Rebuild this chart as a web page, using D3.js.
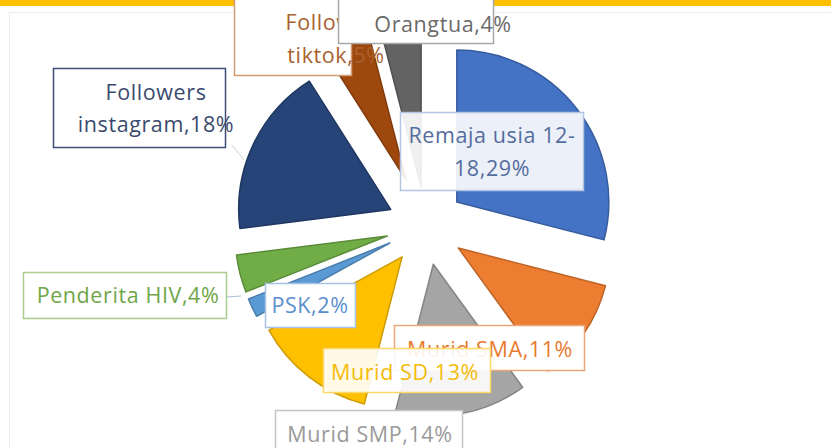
<!DOCTYPE html>
<html>
<head>
<meta charset="utf-8">
<script src="https://cdn.jsdelivr.net/npm/d3@7"></script>
<style>
  html, body { margin: 0; padding: 0; background: #fff; }
  svg { display: block; }
  text { font-family: "Open Sans", Lato, sans-serif; }
</style>
</head>
<body>
<div id="chart"></div>
<script>
// data
const categories = ["Remaja usia 12-18", "Murid SMA", "Murid SMP", "Murid SD", "PSK",
  "Penderita HIV", "Followers instagram", "Followers tiktok", "Orangtua"];
const values = [29, 11, 14, 13, 2, 4, 18, 5, 4];
// label text as shown (Excel wraps some of them)
const labelLines = [
  ["Remaja usia 12-", "18,29%"],
  ["Murid SMA,11%"],
  ["Murid SMP,14%"],
  ["Murid SD,13%"],
  ["PSK,2%"],
  ["Penderita HIV,4%"],
  ["Followers", "instagram,18%"],
  ["Followers", "tiktok,5%"],
  ["Orangtua,4%"]
];

// styles
const colors = ["#4472C4", "#ED7D31", "#A5A5A5", "#FFC000", "#5B9BD5", "#70AD47", "#264478", "#9E480E", "#636363"];
const textColors = ["#556c9e", "#e8792e", "#9a9a9a", "#f5bb0a", "#5b8fcf", "#6fa648", "#3a4a6e", "#a8622f", "#6a6a6a"];
const boxColors = ["#b4c4e2", "#e9a678", "#c4c4c4", "#fcd86a", "#a6c3e6", "#a9cc8f", "#3d4d74", "#d29b72", "#a8a8a8"];
const explode = [39, 39, 39, 39, 40, 40, 39, 50, 39];
// label boxes: [x, y, w, h], text centre x, first baseline, line step
const labelPos = [
  {box: [400, 112, 183, 78], cx: 492, y: 143, dy: 33},
  {box: [394, 325, 190, 45], cx: 490, y: 357, dy: 0},
  {box: [275, 410, 187, 50], cx: 370, y: 442, dy: 0},
  {box: [323, 348, 167, 44], cx: 405, y: 380, dy: 0},
  {box: [265, 283, 90, 44], cx: 310, y: 313, dy: 0},
  {box: [23, 272, 203, 46], cx: 128, y: 303, dy: 0},
  {box: [53, 68, 172, 79], cx: 156, y: 100, dy: 32},
  {box: [234, -10, 117, 85], cx: 336, y: 30, dy: 33},
  {box: [338, -10, 155, 53], cx: 443, y: 32, dy: 0}
];
// drawing order of label boxes (later on top)
const labelOrder = [7, 8, 0, 6, 5, 4, 1, 3, 2];

const width = 831, height = 448;
const cx = 426, cy = 226, radius = 152;

const svg = d3.select("#chart").append("svg")
  .attr("width", width).attr("height", height);

// frame bits of the screenshot
svg.append("rect").attr("x", 9.5).attr("y", 12.5).attr("width", 900).attr("height", 500)
  .attr("fill", "none").attr("stroke", "#ececec");
svg.append("rect").attr("x", 0).attr("y", 0).attr("width", width).attr("height", 6)
  .attr("fill", "#FFC000");

const pie = d3.pie().sort(null).value(d => d)(values);
const arc = d3.arc().innerRadius(0).outerRadius(radius);

const g = svg.append("g").attr("transform", `translate(${cx},${cy})`);

g.selectAll("path.slice")
  .data(pie)
  .enter().append("path")
  .attr("class", "slice")
  .attr("d", arc)
  .attr("transform", (d, i) => {
    const a = (d.startAngle + d.endAngle) / 2;
    return `translate(${Math.sin(a) * explode[i]},${-Math.cos(a) * explode[i]})`;
  })
  .attr("fill", (d, i) => colors[i])
  .attr("stroke", (d, i) => d3.color(colors[i]).darker(0.6))
  .attr("stroke-width", 1.5)
  .attr("stroke-linejoin", "round");

// leader lines
svg.append("line").attr("x1", 226).attr("y1", 297).attr("x2", 241).attr("y2", 296)
  .attr("stroke", "#a9bfd8").attr("stroke-width", 1);
svg.append("line").attr("x1", 232).attr("y1", 145).attr("x2", 244).attr("y2", 160)
  .attr("stroke", "#c9d3df").attr("stroke-width", 1);

// labels
const labels = svg.append("g").attr("class", "labels");
labelOrder.forEach(i => {
  const p = labelPos[i];
  const lg = labels.append("g");
  lg.append("rect")
    .attr("x", p.box[0] + 0.5).attr("y", p.box[1] + 0.5)
    .attr("width", p.box[2]).attr("height", p.box[3])
    .attr("fill", "#fff").attr("fill-opacity", i === 0 || i === 3 ? 0.9 : 1)
    .attr("stroke", boxColors[i]).attr("stroke-width", 1.5);
  lg.selectAll("text")
    .data(labelLines[i])
    .enter().append("text")
    .attr("x", p.cx)
    .attr("y", (d, k) => p.y + k * p.dy)
    .attr("text-anchor", "middle")
    .attr("font-size", 21.5)
    .attr("letter-spacing", 0.6)
    .attr("fill", textColors[i])
    .text(d => d);
});
</script>
</body>
</html>
